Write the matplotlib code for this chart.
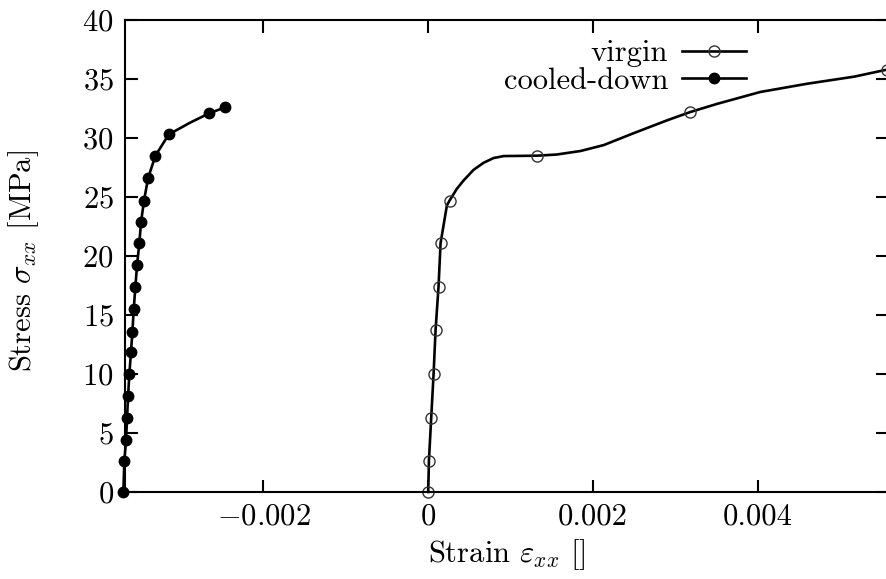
import matplotlib
matplotlib.use("Agg")
import matplotlib.pyplot as plt

# virgin sample: dense curve, markers on a subset of points
virgin_strain = [0.0, 0.0000085, 0.0000364, 0.000065, 0.000089, 0.000125, 0.000150,
                 0.000227, 0.000259, 0.000348, 0.000429, 0.00055, 0.000672, 0.000793,
                 0.000915, 0.00132, 0.00156, 0.00185, 0.00213, 0.00249, 0.0029,
                 0.00318, 0.00351, 0.00403, 0.0046, 0.00517, 0.00557]
virgin_stress = [0.0, 2.65, 6.3, 10.0, 13.7, 17.4, 21.1, 24.3, 24.7, 25.7, 26.4,
                 27.3, 27.9, 28.3, 28.47, 28.5, 28.6, 28.9, 29.4, 30.4, 31.5, 32.2,
                 32.9, 33.9, 34.6, 35.2, 35.8]
virgin_marks = [0, 1, 2, 3, 4, 5, 6, 8, 15, 21, 26]

# cooled-down sample
cooled_strain = [-0.00370, -0.003688, -0.003667, -0.003655, -0.003643, -0.003627,
                 -0.003607, -0.003590, -0.003574, -0.003554, -0.003534, -0.003506,
                 -0.003485, -0.003449, -0.003400, -0.003311, -0.003149, -0.00289,
                 -0.002656, -0.002465]
cooled_stress = [0.0, 2.63, 4.4, 6.3, 8.1, 10.0, 11.9, 13.6, 15.5, 17.4, 19.2, 21.1,
                 22.9, 24.7, 26.6, 28.5, 30.3, 31.3, 32.1, 32.6]
cooled_marks = [i for i in range(len(cooled_strain)) if i != 17]

xticks = [-0.002, 0.0, 0.002, 0.004]
xtick_labels = [r'$-0.002$', '0', '0.002', '0.004']
yticks = [0, 5, 10, 15, 20, 25, 30, 35, 40]

plt.rcParams['font.family'] = 'cmr10'
plt.rcParams['mathtext.fontset'] = 'cm'
plt.rcParams['axes.formatter.use_mathtext'] = True

fig = plt.figure(figsize=(8.87, 5.79), dpi=100)
ax = fig.add_axes([125/887, 87/579, 763/887, 472/579])

ax.plot(virgin_strain, virgin_stress, color='black', lw=1.9, marker='o',
        markevery=virgin_marks, ms=8, mfc='none', mec='#333333', mew=1.0,
        label='virgin', clip_on=False)
ax.plot(cooled_strain, cooled_stress, color='black', lw=1.9, marker='o',
        markevery=cooled_marks, ms=7.5, mfc='black', mec='black',
        label='cooled-down', clip_on=False)

ax.set_xlim(-0.00368, 0.00558)
ax.set_ylim(0, 40)
ax.set_xticks(xticks, labels=xtick_labels)
ax.set_yticks(yticks)
ax.tick_params(direction='in', length=9, width=1.5, top=True, right=True,
               labelsize=22, pad=8)
for s in ax.spines.values():
    s.set_linewidth(1.5)

ax.set_xlabel(r'Strain $\varepsilon_{xx}$ []', fontsize=22)
ax.set_ylabel(r'Stress $\sigma_{xx}$ [MPa]', fontsize=22)
ax.xaxis.set_label_coords(0.5, -0.095)
ax.yaxis.set_label_coords(-0.11, 0.49)

ax.legend(loc='upper right', bbox_to_anchor=(746/887, 1 - 40/579),
          bbox_transform=fig.transFigure, frameon=False, fontsize=22,
          markerfirst=False, handlelength=2.1, handletextpad=0.45,
          labelspacing=0.0, borderaxespad=0, borderpad=0)

fig.savefig('out.png', dpi=100)
